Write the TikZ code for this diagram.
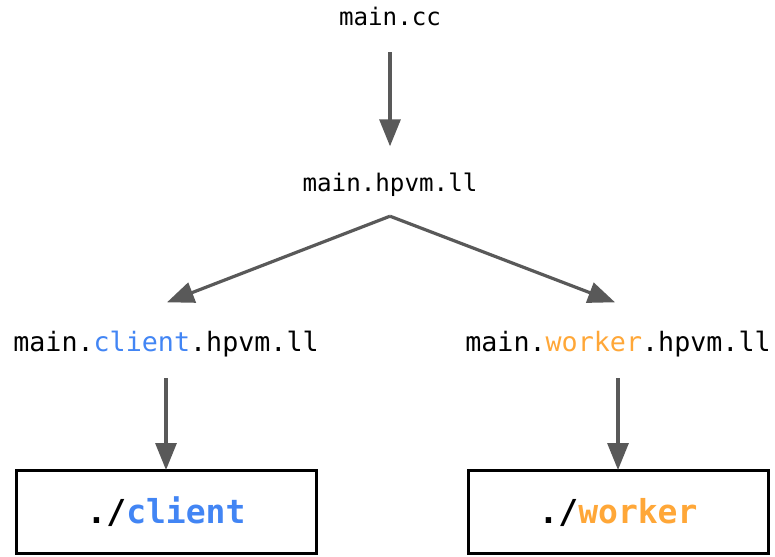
\documentclass[tikz,border=0pt]{standalone}
\usepackage{fontspec}
\setmonofont{DejaVu Sans Mono}
\usetikzlibrary{arrows.meta}
\definecolor{cblue}{RGB}{66,133,244}
\definecolor{corange}{RGB}{255,167,56}
\definecolor{agray}{RGB}{89,89,89}
\tikzset{
  x=1pt,y=-1pt,
  lbl/.style={inner sep=0pt,text height=20pt,text depth=3pt,font=\ttfamily\fontsize{24.2}{24}\selectfont},
  lbltwo/.style={inner sep=0pt,text height=20pt,text depth=3pt,font=\ttfamily\fontsize{26.7}{26.5}\selectfont},
  binbox/.style={draw=black,line width=3pt,minimum width=300pt,minimum height=83pt,inner sep=0pt,font=\ttfamily\bfseries\fontsize{33}{33}\selectfont},
  arr/.style={draw=agray,line width=3.2pt,-{Triangle[length=27pt,width=21pt]}}
}
\begin{document}
\begin{tikzpicture}
\useasboundingbox (0,0) rectangle (775,556);
\node[lbl] (cc) at (390,17) {main.cc};
\node[lbl] (hll) at (390,183) {main.hpvm.ll};
\node[lbltwo] (cl) at (166,343) {main.\textcolor{cblue}{client}.hpvm.ll};
\node[lbltwo] (wk) at (618,343) {main.\textcolor{corange}{worker}.hpvm.ll};
\node[binbox] (cbox) at (166,512) {./\textcolor{cblue}{client}};
\node[binbox] (wbox) at (618,512) {./\textcolor{corange}{worker}};
\draw[arr] ([yshift=-23.5pt]cc.south) -- ([yshift=25pt]hll.north);
\draw[arr] ([yshift=-21.5pt]hll.south) -- ([xshift=1pt,yshift=29pt]cl.north);
\draw[arr] ([yshift=-21.5pt]hll.south) -- ([xshift=-3pt,yshift=29pt]wk.north);
\draw[arr] ([yshift=-23.5pt]cl.south) -- ([yshift=-1pt]cbox.north);
\draw[arr] ([yshift=-23.5pt]wk.south) -- ([yshift=-1pt]wbox.north);
\end{tikzpicture}
\end{document}
